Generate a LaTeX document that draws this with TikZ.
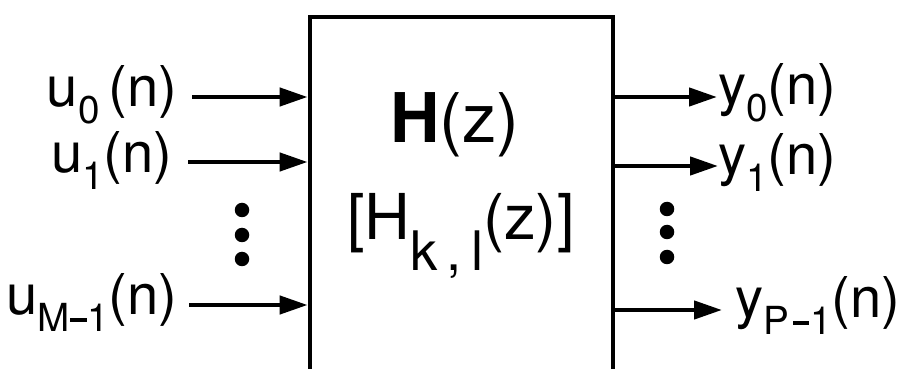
\documentclass[tikz,border=0pt]{standalone}
\usepackage{fontspec}
\setmainfont{TeX Gyre Heros}
\usetikzlibrary{arrows.meta}
\newcommand{\lo}[1]{\raisebox{-0.3em}{\fontsize{22}{23}\selectfont #1}}
\newcommand{\loH}[1]{\raisebox{-0.48em}{\fontsize{31}{32}\selectfont #1}}
\newcommand{\mn}{\kern0.02em\rule[0.26em]{0.42em}{0.09em}\kern0.02em}
\tikzset{
  blk/.style={draw, line width=2.7pt, minimum width=6.06cm, minimum height=7.3cm},
  sig/.style={font=\fontsize{32}{34}\selectfont, inner sep=0pt},
  mat/.style={font=\fontsize{39}{42}\selectfont, inner sep=0pt},
  arr/.style={-{Triangle[length=5.6mm, width=3.6mm]}, line width=2.5pt},
}

\begin{document}
\begin{tikzpicture}
  \useasboundingbox (0,0) rectangle (18.1,7.36);
  % the system block, open at the bottom edge
  \node[blk] (sys) at (9.23,3.37) {};
  \node[mat, anchor=base] (hz)  at (9.1,4.5)   {\textbf{H}(z)};
  \node[mat, anchor=base, font=\fontsize{36}{38}\selectfont] (hkl) at (9.22,2.56) {[H\loH{k\,,\,l}(z)]};

  % inputs
  \coordinate (a0) at (3.84,5.42);
  \coordinate (a1) at (3.76,4.12);
  \coordinate (am) at (3.78,1.26);
  \node[sig, anchor=base east] (u0) at (3.56,5.22) {u\lo{0}\,(n)};
  \node[sig, anchor=base east] (u1) at (3.46,3.90) {u\lo{1}(n)};
  \node[sig, anchor=base east] (um) at (3.56,1.06) {u\lo{M\mn1}(n)};
  \draw[arr] (a0) -- (a0 -| sys.west);
  \draw[arr] (a1) -- (a1 -| sys.west);
  \draw[arr] (am) -- (am -| sys.west);

  % outputs
  \coordinate (b0) at (14.34,5.42);
  \coordinate (b1) at (14.36,4.04);
  \coordinate (bp) at (14.44,1.16);
  \node[sig, anchor=base west] (y0) at (14.36,5.26) {y\lo{0}(n)};
  \node[sig, anchor=base west] (y1) at (14.36,3.86) {y\lo{1}(n)};
  \node[sig, anchor=base west] (yp) at (14.70,1.00) {y\lo{P\kern0.08em\mn1}(n)};
  \draw[arr] (sys.east |- b0) -- (b0);
  \draw[arr] (sys.east |- b1) -- (b1);
  \draw[arr] (sys.east |- bp) -- (bp);

  % vertical dots
  \foreach \y in {3.16,2.66,2.18} \fill (4.84,\y) circle (0.145);
  \foreach \y in {3.18,2.72,2.22} \fill (13.34,\y) circle (0.145);
\end{tikzpicture}
\end{document}
